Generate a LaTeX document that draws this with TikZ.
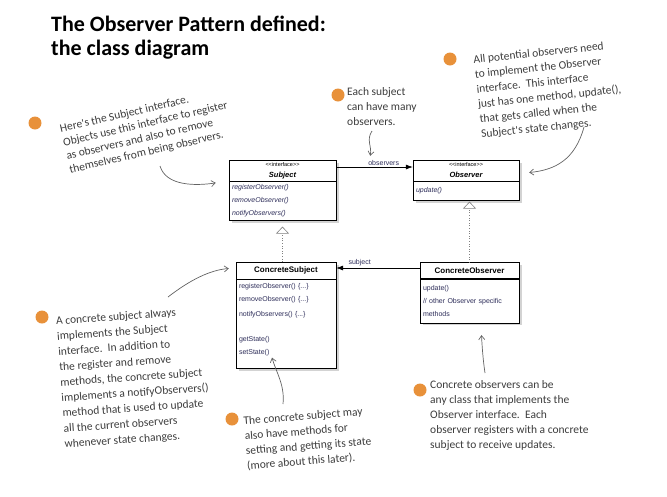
\documentclass[tikz,border=0pt]{standalone}
\usepackage{fontspec}
\usepackage{tikz}
\usetikzlibrary{arrows.meta,shadows,positioning}
\newfontfamily\boxfont{Liberation Sans}
\newfontfamily\handfont{Carlito}
\definecolor{dotorange}{HTML}{E8913A}
\definecolor{handgray}{HTML}{3C3C3C}
\definecolor{methodink}{HTML}{2E2E5A}
\tikzstyle{classhead} = [draw, fill=white, inner sep=1pt, align=center, font=\boxfont, drop shadow={shadow xshift=2.5pt, shadow yshift=-2.5pt, opacity=0.35}]
\tikzstyle{classbody} = [draw, fill=white, inner xsep=3pt, inner ysep=2pt, align=left, text=methodink, font=\boxfont\fontsize{7}{13}\selectfont, drop shadow={shadow xshift=2.5pt, shadow yshift=-2.5pt, opacity=0.35}]
\tikzstyle{note} = [align=left, text=handgray, inner sep=0pt, font=\handfont\fontsize{11.5}{15}\selectfont]
\tikzstyle{dot} = [circle, fill=dotorange, minimum size=13pt, inner sep=0pt]
\tikzstyle{pointer} = [draw=handgray!80, line width=0.7pt, -{Straight Barb[length=4pt,width=6pt]}]
\tikzstyle{assoc} = [draw, line width=0.6pt, -{Latex[length=7pt,width=5pt]}]
\tikzstyle{realize} = [draw=gray, dotted, line width=0.6pt, -{Triangle[length=7pt,width=13pt,fill=white,line width=0.6pt]}]
\tikzstyle{assoclabel} = [above, inner sep=1.5pt, text=methodink, font=\boxfont\fontsize{7}{8}\selectfont]

\begin{document}
\begin{tikzpicture}[x=1pt, y=-1pt]
    \useasboundingbox (0,0) rectangle (667,496);
    % title
    \node[anchor=north west, align=left, inner sep=0pt, font=\handfont\bfseries\fontsize{22}{23.5}\selectfont] (title) at (51,16) {The Observer Pattern defined:\\the class diagram};

    % Subject interface
    \node[classhead, minimum width=107pt, minimum height=21pt] (subjhead) at (282.5,170.5)
        {{\fontsize{5.5}{6}\selectfont <\kern0pt<interface>\kern0pt>}\\[-1pt]{\fontsize{7.5}{8}\selectfont\bfseries\itshape Subject}};
    \node[classbody, text width=101pt, minimum width=107pt, minimum height=39pt, below=0pt of subjhead] (subjbody)
        {\itshape registerObserver()\\\itshape removeObserver()\\\itshape notifyObservers()};

    % Observer interface
    \node[classhead, minimum width=106pt, minimum height=21pt] (obshead) at (466,170.5)
        {{\fontsize{5.5}{6}\selectfont <\kern0pt<interface>\kern0pt>}\\[-1pt]{\fontsize{7.5}{8}\selectfont\bfseries\itshape Observer}};
    \node[classbody, text width=100pt, minimum width=106pt, minimum height=19pt, below=0pt of obshead] (obsbody)
        {\itshape update()};

    % ConcreteSubject
    \node[classhead, minimum width=100pt, minimum height=17pt, font=\boxfont\bfseries\fontsize{8}{9}\selectfont] (csubhead) at (286,270.5) {ConcreteSubject};
    \node[classbody, text width=94pt, minimum width=100pt, minimum height=89pt, below=0pt of csubhead] (csubbody)
        {registerObserver() \{...\}\\removeObserver() \{...\}\\[2pt]notifyObservers() \{...\}\\[12pt]getState()\\setState()\\[-3pt]\mbox{}};

    % ConcreteObserver
    \node[classhead, minimum width=99pt, minimum height=16pt, font=\boxfont\bfseries\fontsize{8}{9}\selectfont] (cobshead) at (469.5,270.5) {ConcreteObserver};
    \node[classbody, text width=93pt, minimum width=99pt, minimum height=44pt, below=0pt of cobshead] (cobsbody)
        {update()\\// other Observer specific\\methods};

    % associations
    \draw[assoc] ([yshift=3.5pt]subjhead.east) -- node[assoclabel, pos=0.62] {observers} ([yshift=3.5pt]obshead.west);
    \draw[assoc] ([yshift=2.5pt]cobshead.west) -- node[assoclabel, pos=0.72] {subject} ([yshift=2.5pt]csubhead.east);

    % realizations
    \draw[realize, shorten >=6pt] (csubhead.north -| subjbody.south) -- (subjbody.south);
    \draw[realize, shorten >=1pt] (cobshead.north) -- (cobshead.north |- obsbody.south);

    % notes
    \node[dot] (dot1) at (35,123) {};
    \node[note, rotate=13, font=\handfont\fontsize{11.5}{14}\selectfont] (note1) at (147,131) {Here's the Subject interface.\\Objects use this interface to register\\as observers and also to remove\\themselves from being observers.};
    \node[dot] (dot2) at (338,95) {};
    \node[note, anchor=north west] (note2) at (347,87) {Each subject\\can have many\\observers.};
    \node[dot] (dot3) at (450,59) {};
    \node[note, rotate=6] (note3) at (549,90) {All potential observers need\\to implement the Observer\\interface.\ \ This interface\\just has one method, update(),\\that gets called when the\\Subject's state changes.};
    \node[dot] (dot4) at (42,317) {};
    \node[note, rotate=4, font=\handfont\fontsize{11.5}{15.4}\selectfont] (note4) at (134,378) {A concrete subject always\\implements the Subject\\interface.\ \ In addition to\\the register and remove\\methods, the concrete subject\\implements a notifyObservers()\\method that is used to update\\all the current observers\\whenever state changes.};
    \node[dot] (dot5) at (232,419) {};
    \node[note, rotate=4.5] (note5) at (308,439) {The concrete subject may\\also have methods for\\setting and getting its state\\(more about this later).};
    \node[dot] (dot6) at (420,390) {};
    \node[note, anchor=north west] (note6) at (430,380) {Concrete observers can be\\any class that implements the\\Observer interface.\ \ Each\\observer registers with a concrete\\subject to receive updates.};

    % pointers
    \coordinate (p1) at (160,166);
    \coordinate (p2) at (372,131);
    \coordinate (p3) at (584,127);
    \coordinate (p4) at (168,297);
    \coordinate (p5) at (283,404);
    \coordinate (p6) at (485,373);
    \draw[pointer] (p1) .. controls (166,186) and (195,186) .. ([xshift=-13pt,yshift=18pt]subjbody.west);
    \draw[pointer] (p2) .. controls (366,140) and (372,146) .. ([xshift=34pt,yshift=4pt]subjhead.north east);
    \draw[pointer] (p3) .. controls (575,160) and (555,170) .. ([xshift=10pt,yshift=-2pt]obshead.east);
    \draw[pointer] (p4) .. controls (190,280) and (210,270) .. ([xshift=-7pt,yshift=2pt]csubhead.west);
    \draw[pointer] (p5) .. controls (285,385) and (276,372) .. ([xshift=-14pt,yshift=11pt]csubbody.south);
    \draw[pointer] (p6) .. controls (483,360) and (482,345) .. ([xshift=12pt,yshift=-12pt]cobsbody.south);
\end{tikzpicture}
\end{document}
